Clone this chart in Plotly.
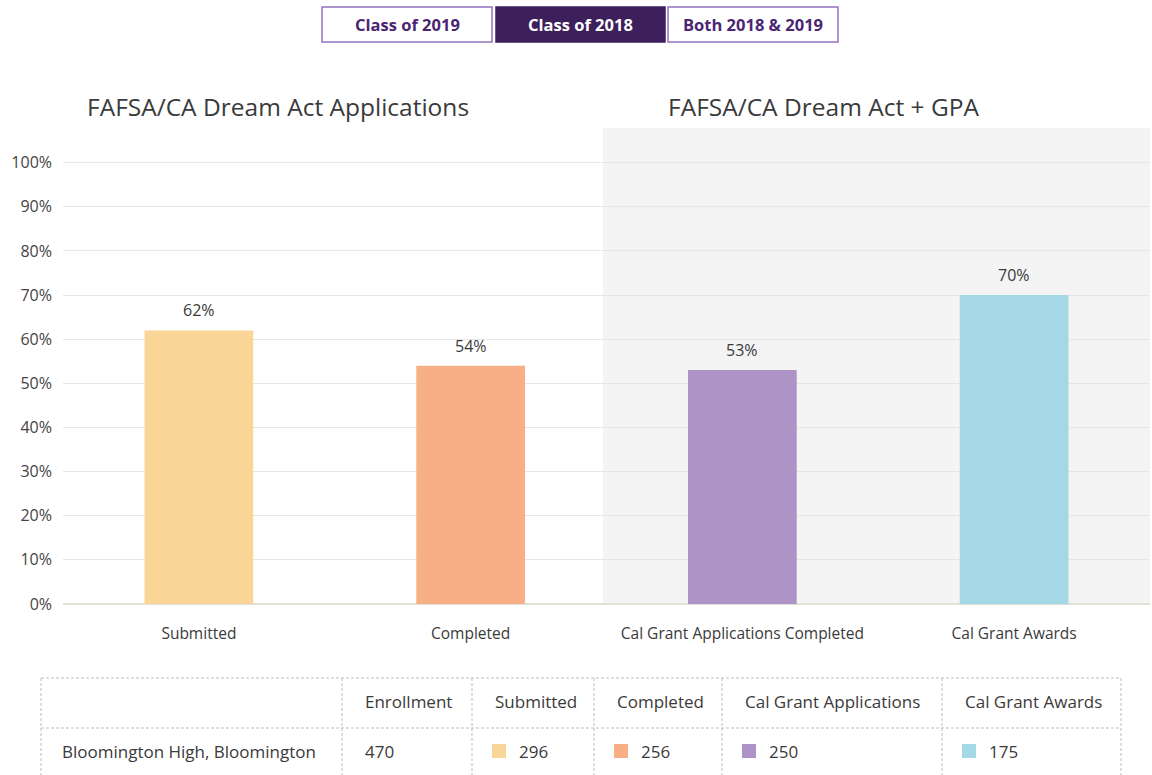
import plotly.graph_objects as go

# ---- data ----
categories = ["Submitted", "Completed", "Cal Grant Applications Completed", "Cal Grant Awards"]
percent_values = [62, 54, 53, 70]
bar_colors = ["#F9D597", "#F9AF85", "#AE94C6", "#A5D8E6"]
y_ticks = [0, 10, 20, 30, 40, 50, 60, 70, 80, 90, 100]
y_tick_labels = [f"{v}%" for v in y_ticks]
section_titles = ["FAFSA/CA Dream Act Applications", "FAFSA/CA Dream Act + GPA"]
buttons = ["Class of 2019", "Class of 2018", "Both 2018 & 2019"]
active_button = "Class of 2018"
table_headers = ["", "Enrollment", "Submitted", "Completed", "Cal Grant Applications", "Cal Grant Awards"]
school_name = "Bloomington High, Bloomington"
enrollment = 470
table_counts = [296, 256, 250, 175]

# ---- geometry (pixels) ----
W, H = 1152, 775
L, R, T, B = 63, 1150, 128, 604
YMAX = (B - T) / ((B - 162.7) / 100)

def px(x):
    return (x - L) / (R - L)

def py(y):
    return (B - y) / (B - T)

FONT = "'Open Sans', Lato, sans-serif"
TXT = "#3a3a3a"

fig = go.Figure()
fig.add_trace(go.Bar(
    x=list(range(len(categories))), y=percent_values,
    marker=dict(color=bar_colors, line=dict(width=0)),
    width=0.4, hoverinfo="skip", showlegend=False,
))

shapes = []
annotations = []

# grey background band for second section
shapes.append(dict(type="rect", xref="paper", yref="paper", x0=px(603), x1=1, y0=0, y1=1,
                   fillcolor="#F4F4F4", line=dict(width=0), layer="below"))

# bar value labels
for i, v in enumerate(percent_values):
    annotations.append(dict(x=i, y=v, xref="x", yref="y", text=f"{v}%", showarrow=False,
                            yshift=20, yanchor="middle",
                            font=dict(family=FONT, size=16, color=TXT)))

# section titles
for title, cx in zip(section_titles, [278, 823]):
    annotations.append(dict(x=px(cx), y=py(107), xref="paper", yref="paper", text=title,
                            showarrow=False, xanchor="center", yanchor="middle",
                            font=dict(family=FONT, size=24.5, color=TXT)))

# buttons
btn_x = [(322, 492), (496, 665), (668, 838)]
for label, (x0, x1) in zip(buttons, btn_x):
    active = label == active_button
    shapes.append(dict(type="rect", xref="paper", yref="paper", x0=px(x0), x1=px(x1),
                       y0=py(42), y1=py(7),
                       fillcolor="#3D1F5C" if active else "white",
                       line=dict(color="#3D1F5C" if active else "#9272BF", width=1.5)))
    annotations.append(dict(x=px((x0 + x1) / 2), y=py(24.5), xref="paper", yref="paper",
                            text=f"<b>{label}</b>", showarrow=False,
                            xanchor="center", yanchor="middle",
                            font=dict(family=FONT, size=16.5, color="white" if active else "#4B2573")))

# table
tab_cols = [41, 342, 472, 594, 722, 942, 1121]
tab_top, tab_mid, tab_bot = 678, 728, 785
dash = dict(color="#BDBDBD", width=1, dash="3px,2px")
for yy in (tab_top, tab_mid):
    shapes.append(dict(type="line", xref="paper", yref="paper", x0=px(tab_cols[0]), x1=px(tab_cols[-1]),
                       y0=py(yy), y1=py(yy), line=dash))
for xx in tab_cols:
    shapes.append(dict(type="line", xref="paper", yref="paper", x0=px(xx), x1=px(xx),
                       y0=py(tab_top), y1=py(tab_bot), line=dash))

TS = 17
HEAD_Y, ROW_Y = 701, 751
for j, head in enumerate(table_headers):
    if head:
        annotations.append(dict(x=px(tab_cols[j] + 21), y=py(HEAD_Y), xref="paper", yref="paper",
                                text=head, showarrow=False, xanchor="left", yanchor="middle",
                                font=dict(family=FONT, size=TS, color=TXT)))

annotations.append(dict(x=px(tab_cols[0] + 19), y=py(ROW_Y), xref="paper", yref="paper",
                        text=school_name, showarrow=False, xanchor="left", yanchor="middle",
                        font=dict(family=FONT, size=TS, color=TXT)))
annotations.append(dict(x=px(tab_cols[1] + 21), y=py(ROW_Y), xref="paper", yref="paper",
                        text=str(enrollment), showarrow=False, xanchor="left", yanchor="middle",
                        font=dict(family=FONT, size=TS, color=TXT)))
for k, (cnt, col) in enumerate(zip(table_counts, bar_colors)):
    x0 = tab_cols[2 + k] + 20
    shapes.append(dict(type="rect", xref="paper", yref="paper", x0=px(x0), x1=px(x0 + 14),
                       y0=py(758), y1=py(744), fillcolor=col, line=dict(width=0)))
    annotations.append(dict(x=px(x0 + 25), y=py(ROW_Y), xref="paper", yref="paper",
                            text=str(cnt), showarrow=False, xanchor="left", yanchor="middle",
                            font=dict(family=FONT, size=TS, color=TXT)))

fig.update_layout(
    width=W, height=H,
    margin=dict(l=L, r=W - R, t=T, b=H - B, pad=0),
    paper_bgcolor="white", plot_bgcolor="rgba(0,0,0,0)",
    shapes=shapes, annotations=annotations,
    bargap=0.6,
    font=dict(family=FONT, size=15, color=TXT),
    xaxis=dict(tickmode="array", tickvals=list(range(len(categories))), ticktext=categories,
               range=[-0.5, 3.5], showgrid=False, zeroline=False, showline=False,
               ticks="", ticklabelstandoff=18, tickfont=dict(size=15.5, color=TXT), fixedrange=True),
    yaxis=dict(range=[0, YMAX], tickmode="array", tickvals=y_ticks, ticktext=y_tick_labels,
               showgrid=True, gridcolor="#E8E6E0", gridwidth=1, zeroline=True,
               zerolinecolor="#E2E0D8", zerolinewidth=1.5, showline=False, ticks="",
               ticklabelstandoff=10, tickfont=dict(size=16, color="#444"), fixedrange=True),
)

fig.write_html("out.html", config={"displayModeBar": False},
               post_script="document.body.style.margin='0';")
